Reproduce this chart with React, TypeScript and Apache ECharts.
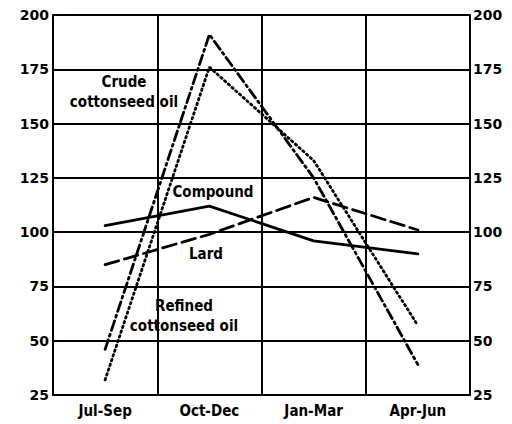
import React, { useEffect, useRef } from "react";
import * as echarts from "echarts";

const categories = ["Jul-Sep", "Oct-Dec", "Jan-Mar", "Apr-Jun"];
const crudeOil = [46, 191, 125, 39];
const refinedOil = [32, 176, 133, 57];
const compound = [103, 112, 96, 90];
const lard = [85, 99, 116, 101];
const yTicks = { min: 25, max: 200, interval: 25 };

const FONT = "'DejaVu Sans Condensed', 'DejaVu Sans', sans-serif";
const NUMFONT = "'DejaVu Sans', sans-serif";

export default function App() {
  const ref = useRef<HTMLDivElement>(null);
  useEffect(() => {
    document.body.style.margin = "0";
    const chart = echarts.init(ref.current!, null, { renderer: "svg" });
    const lineBase = { color: "#000", width: 2.8, cap: "round" as const };
    const txt = (x: number, y: number, text: string) => ({
      type: "text",
      x,
      y,
      style: {
        text,
        fill: "#000",
        font: `bold 15px ${FONT}`,
        textAlign: "center",
        textVerticalAlign: "middle",
        lineHeight: 20,
      },
    });
    const numLabel = {
      color: "#000",
      fontFamily: NUMFONT,
      fontWeight: "bold",
      fontSize: 14,
    };
    chart.setOption({
      animation: false,
      backgroundColor: "#fff",
      grid: { left: 53, right: 42, top: 15, bottom: 29 },
      xAxis: {
        type: "category",
        data: categories,
        boundaryGap: true,
        axisLine: { show: true, lineStyle: { color: "#000", width: 2 } },
        axisTick: { show: false },
        axisLabel: {
          color: "#000",
          fontFamily: FONT,
          fontWeight: "bold",
          fontSize: 15,
          margin: 8,
        },
        splitLine: { show: true, lineStyle: { color: "#000", width: 2 } },
      },
      yAxis: [
        {
          type: "value",
          ...yTicks,
          position: "left",
          axisLine: { show: true, lineStyle: { color: "#000", width: 2 } },
          axisTick: { show: false },
          axisLabel: { ...numLabel, margin: 4 },
          splitLine: { show: true, lineStyle: { color: "#000", width: 2 } },
        },
        {
          type: "value",
          ...yTicks,
          position: "right",
          axisLine: { show: true, lineStyle: { color: "#000", width: 2 } },
          axisTick: { show: false },
          axisLabel: { ...numLabel, margin: 3 },
          splitLine: { show: false },
        },
      ],
      series: [
        {
          name: "Crude cottonseed oil",
          type: "line",
          data: crudeOil,
          symbol: "none",
          lineStyle: { ...lineBase, type: [10, 4, 2, 4] },
        },
        {
          name: "Refined cottonseed oil",
          type: "line",
          data: refinedOil,
          symbol: "none",
          lineStyle: { ...lineBase, type: [1.5, 3.5] },
        },
        {
          name: "Compound",
          type: "line",
          data: compound,
          symbol: "none",
          lineStyle: { ...lineBase },
        },
        {
          name: "Lard",
          type: "line",
          data: lard,
          symbol: "none",
          lineStyle: { ...lineBase, type: [14, 6] },
        },
      ],
      graphic: [
        txt(124, 92, "Crude\ncottonseed oil"),
        txt(213, 192, "Compound"),
        txt(206, 254, "Lard"),
        txt(184, 316, "Refined\ncottonseed oil"),
      ],
    });
    return () => chart.dispose();
  }, []);
  return (
    <div
      ref={ref}
      style={{ position: "fixed", left: 0, top: 0, width: 512, height: 424 }}
    />
  );
}
